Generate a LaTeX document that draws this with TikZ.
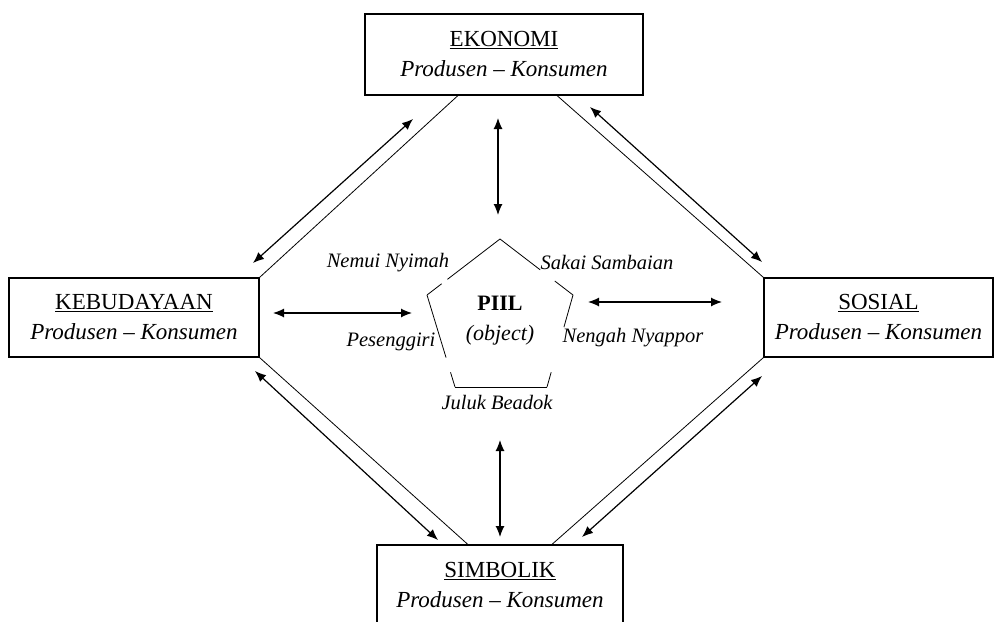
\documentclass[tikz,border=0pt]{standalone}
\usepackage{fontspec}
\setmainfont{Liberation Serif}
\usetikzlibrary{arrows.meta,calc}
\begin{document}
\begin{tikzpicture}[x=1pt,y=-1pt,
  box/.style={draw,line width=1.1pt,align=center,inner sep=0pt,font=\fontsize{23}{30}\selectfont},
  lbl/.style={font=\fontsize{20.5}{24}\selectfont\itshape,inner sep=0pt},
  thinline/.style={line width=0.8pt},
  pent/.style={line width=0.8pt},
  dbl/.style={{Latex[length=11pt,width=9pt]}-{Latex[length=11pt,width=9pt]},line width=1.2pt}]
\useasboundingbox (0,0) rectangle (995,621);
\clip (0,0) rectangle (995,621);

% boxes
\node[box,minimum width=278pt,minimum height=81pt] (eko) at (504,54.5) {\underline{EKONOMI}\\\textit{Produsen – Konsumen}};
\node[box,minimum width=250pt,minimum height=79pt] (keb) at (134,317.5) {\underline{KEBUDAYAAN}\\\textit{Produsen – Konsumen}};
\node[box,minimum width=229pt,minimum height=79pt] (sos) at (878.5,317.5) {\underline{SOSIAL}\\\textit{Produsen – Konsumen}};
\node[box,minimum width=246pt,minimum height=80pt] (sim) at (500,585) {\underline{SIMBOLIK}\\\textit{Produsen – Konsumen}};

% thin diamond lines
\draw[thinline] (keb.north east) -- ($(eko.south west)!0.335!(eko.south east)$);
\draw[thinline] ($(eko.south west)!0.69!(eko.south east)$) -- (sos.north west);
\draw[thinline] (keb.south east) -- ($(sim.north west)!0.37!(sim.north east)$);
\draw[thinline] ($(sim.north west)!0.71!(sim.north east)$) -- (sos.south west);

% arrow end points
\coordinate (a1s) at (253,263); \coordinate (a1e) at (413,119);
\coordinate (a2s) at (590,107); \coordinate (a2e) at (762,262);
\coordinate (a3s) at (255,371); \coordinate (a3e) at (438,540);
\coordinate (a4s) at (582,537); \coordinate (a4e) at (762,376);
\coordinate (v1s) at (498,118); \coordinate (v1e) at (498,215);
\coordinate (v2s) at (500,440); \coordinate (v2e) at (500,537);
\coordinate (h1s) at (273,313); \coordinate (h1e) at (412,313);
\coordinate (h2s) at (588,302); \coordinate (h2e) at (722,302);

\draw[dbl] (a1s) -- (a1e);
\draw[dbl] (a2s) -- (a2e);
\draw[dbl] (a3s) -- (a3e);
\draw[dbl] (a4s) -- (a4e);
\draw[dbl] (v1s) -- (v1e);
\draw[dbl] (v2s) -- (v2e);
\draw[dbl] (h1s) -- (h1e);
\draw[dbl] (h2s) -- (h2e);

% pentagon
\coordinate (pT) at (500,239);
\coordinate (pUR) at (573,295);
\coordinate (pLR) at (547,387);
\coordinate (pLL) at (455,387);
\coordinate (pUL) at (427,295);
\draw[pent] (pT) -- ($(pT)!0.72!(pUL)$) ($(pT)!0.80!(pUL)$) -- (pUL);
\draw[pent] (pT) -- ($(pT)!0.55!(pUR)$) ($(pT)!0.75!(pUR)$) -- (pUR);
\draw[pent] (pUR) -- ($(pUR)!0.35!(pLR)$) ($(pUR)!0.84!(pLR)$) -- (pLR);
\draw[pent] (pLR) -- (pLL);
\draw[pent] (pLL) -- ($(pLL)!0.16!(pUL)$) ($(pLL)!0.32!(pUL)$) -- (pUL);

% center texts
\node[font=\fontsize{22}{26}\selectfont\bfseries,inner sep=0pt] (piil) at (500,303) {PIIL};
\node[font=\fontsize{22}{26}\selectfont\itshape,inner sep=0pt] (obj) at (500,335) {(object)};

% labels
\node[lbl] (nemui) at (388,263) {Nemui Nyimah};
\node[lbl] (sakai) at (607,262) {Sakai Sambaian};
\node[lbl] (peseng) at (391,342) {Pesenggiri};
\node[lbl] (nengah) at (633,338) {Nengah Nyappor};
\node[lbl] (juluk) at (497,403) {Juluk Beadok};
\end{tikzpicture}
\end{document}
